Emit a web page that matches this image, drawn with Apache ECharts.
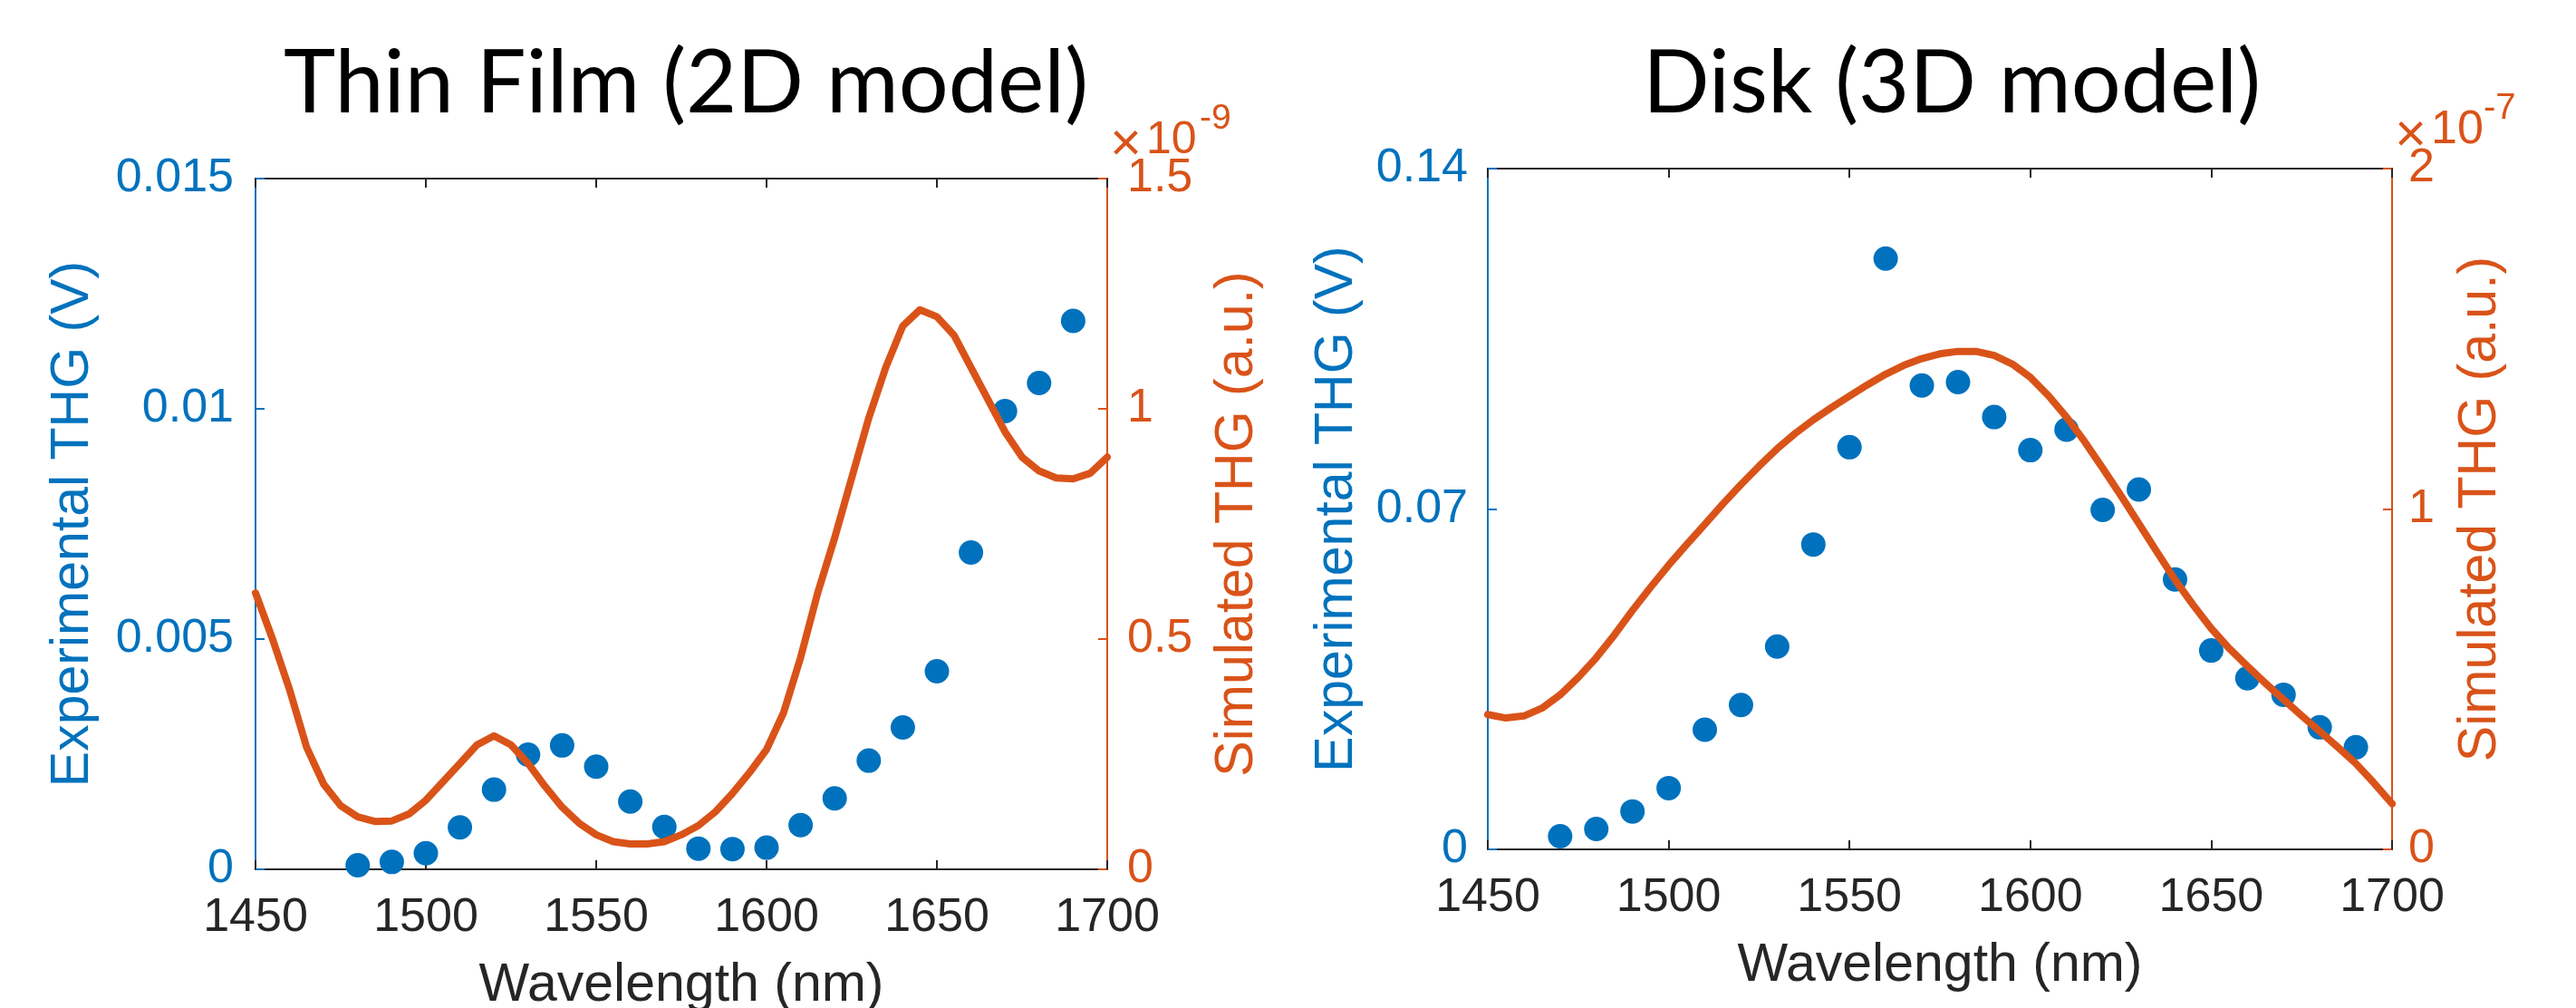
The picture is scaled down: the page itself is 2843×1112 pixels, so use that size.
<!DOCTYPE html>
<html>
<head>
<meta charset="utf-8">
<script src="https://cdn.jsdelivr.net/npm/echarts@6/dist/echarts.min.js"></script>
<style>
html,body{margin:0;padding:0;background:#fff;}
#chart{width:2843px;height:1112px;}
</style>
</head>
<body>
<div id="chart"></div>
<script>
// ---------- DATA ----------
const titles = ['Thin Film (2D model)', 'Disk (3D model)'];
const xTicks = [1450, 1500, 1550, 1600, 1650, 1700];
const xName = 'Wavelength (nm)';
const leftName = 'Experimental THG (V)';
const rightName = 'Simulated THG (a.u.)';
const filmLeftTicks = [0, 0.005, 0.01, 0.015];
const filmRightTicks = [0, 0.5, 1, 1.5];
const diskLeftTicks = [0, 0.07, 0.14];
const diskRightTicks = [0, 1, 2];
const filmExponent = '-9';
const diskExponent = '-7';

// Thin film – experimental (V)
const filmExpLambda = [1480, 1490, 1500, 1510, 1520, 1530, 1540, 1550, 1560, 1570, 1580,
  1590, 1600, 1610, 1620, 1630, 1640, 1650, 1660, 1670, 1680, 1690];
const filmExpTHG = [0.00009, 0.00016, 0.00035, 0.00091, 0.00173, 0.00249, 0.00269, 0.00223,
  0.00147, 0.00092, 0.00045, 0.00044, 0.00047, 0.00096, 0.00154, 0.00236, 0.00308, 0.00430,
  0.00688, 0.00995, 0.01056, 0.01191];

// Simulated wavelengths (nm)
const simLambda = [1450, 1455, 1460, 1465, 1470, 1475, 1480, 1485, 1490, 1495, 1500,
  1505, 1510, 1515, 1520, 1525, 1530, 1535, 1540, 1545, 1550,
  1555, 1560, 1565, 1570, 1575, 1580, 1585, 1590, 1595, 1600,
  1605, 1610, 1615, 1620, 1625, 1630, 1635, 1640, 1645, 1650,
  1655, 1660, 1665, 1670, 1675, 1680, 1685, 1690, 1695, 1700];
// Thin film – simulated (x 1e-9 a.u.)
const filmSimTHG = [0.60, 0.50, 0.39, 0.265, 0.185, 0.138, 0.114, 0.104, 0.105, 0.12, 0.15,
  0.19, 0.23, 0.27, 0.29, 0.27, 0.23, 0.18, 0.135, 0.10, 0.075,
  0.06, 0.055, 0.055, 0.06, 0.075, 0.095, 0.125, 0.165, 0.21, 0.26,
  0.34, 0.46, 0.60, 0.72, 0.85, 0.98, 1.09, 1.18, 1.215, 1.20,
  1.16, 1.09, 1.02, 0.95, 0.895, 0.865, 0.85, 0.848, 0.86, 0.895];

// Disk – experimental (V)
const diskExpLambda = [1470, 1480, 1490, 1500, 1510, 1520, 1530, 1540, 1550, 1560, 1570,
  1580, 1590, 1600, 1610, 1620, 1630, 1640, 1650, 1660, 1670, 1680, 1690];
const diskExpTHG = [0.0027, 0.0042, 0.0078, 0.0126, 0.0246, 0.0297, 0.0417, 0.0627, 0.0827,
  0.1215, 0.0954, 0.0961, 0.0889, 0.0821, 0.0863, 0.0698, 0.0740, 0.0555, 0.0409,
  0.0352, 0.0318, 0.0251, 0.0210];
// Disk – simulated (x 1e-7 a.u.)
const diskSimTHG = [0.396, 0.386, 0.392, 0.415, 0.454, 0.505, 0.563, 0.630, 0.702, 0.770, 0.835,
  0.896, 0.955, 1.015, 1.072, 1.126, 1.177, 1.222, 1.262, 1.298, 1.332,
  1.365, 1.396, 1.422, 1.442, 1.456, 1.463, 1.463, 1.451, 1.426, 1.387,
  1.333, 1.270, 1.198, 1.120, 1.040, 0.957, 0.874, 0.792, 0.718, 0.649,
  0.590, 0.538, 0.488, 0.440, 0.393, 0.347, 0.300, 0.252, 0.195, 0.134];

// ---------- STYLE ----------
const BLUE = '#0072BD';
const ORANGE = '#D95319';
const DARK = '#262626';
const SANS = '"Liberation Sans", Arial, Helvetica, sans-serif';
const TICKFS = 52;
const NAMEFS = 59;

function zip(a, b) { return a.map((v, i) => [v, b[i]]); }
function fmt(v) { return String(+Number(v).toPrecision(6)); }

const grids = [
  { left: 282, top: 197, width: 940, height: 762, outerBoundsMode: 'none', containLabel: false },
  { left: 1642, top: 186, width: 998, height: 751, outerBoundsMode: 'none', containLabel: false }
];

function xBottom(g) {
  return {
    type: 'value', gridIndex: g, position: 'bottom',
    min: xTicks[0], max: xTicks[xTicks.length - 1], interval: xTicks[1] - xTicks[0],
    axisLine: { show: true, onZero: false, lineStyle: { color: DARK, width: 2 } },
    axisTick: { show: true, inside: true, length: 10, lineStyle: { color: DARK, width: 2 } },
    axisLabel: { color: DARK, fontSize: TICKFS, fontFamily: SANS, margin: 28, formatter: fmt },
    splitLine: { show: false },
    name: xName, nameLocation: 'middle', nameGap: 99, nameMoveOverlap: false,
    nameTextStyle: { color: DARK, fontSize: NAMEFS, fontFamily: SANS, lineHeight: NAMEFS }
  };
}
function xTop(g) {
  return {
    type: 'value', gridIndex: g, position: 'top',
    min: xTicks[0], max: xTicks[xTicks.length - 1], interval: xTicks[1] - xTicks[0],
    axisLine: { show: true, onZero: false, lineStyle: { color: DARK, width: 2 } },
    axisTick: { show: true, inside: true, length: 10, lineStyle: { color: DARK, width: 2 } },
    axisLabel: { show: false },
    splitLine: { show: false }
  };
}
function yAx(g, pos, ticks, color, name, gap, margin) {
  return {
    type: 'value', gridIndex: g, position: pos,
    min: ticks[0], max: ticks[ticks.length - 1], interval: ticks[1] - ticks[0],
    axisLine: { show: true, lineStyle: { color: color, width: 2 } },
    axisTick: { show: true, inside: true, length: 10, lineStyle: { color: color, width: 2 } },
    axisLabel: { color: color, fontSize: TICKFS, fontFamily: SANS, margin: margin, formatter: fmt },
    splitLine: { show: false },
    name: name, nameLocation: 'middle', nameGap: gap, nameMoveOverlap: false,
    nameTextStyle: { color: color, fontSize: NAMEFS, fontFamily: SANS, lineHeight: NAMEFS }
  };
}

const option = {
  animation: false,
  backgroundColor: '#ffffff',
  grid: grids,
  xAxis: [xBottom(0), xTop(0), xBottom(1), xTop(1)],
  yAxis: [
    yAx(0, 'left', filmLeftTicks, BLUE, leftName, 172, 24),
    yAx(0, 'right', filmRightTicks, ORANGE, rightName, 114, 22),
    yAx(1, 'left', diskLeftTicks, BLUE, leftName, 137, 22),
    yAx(1, 'right', diskRightTicks, ORANGE, rightName, 68, 18)
  ],
  series: [
    { type: 'scatter', xAxisIndex: 0, yAxisIndex: 0, data: zip(filmExpLambda, filmExpTHG),
      symbol: 'circle', symbolSize: 27, itemStyle: { color: BLUE, opacity: 1 }, z: 2 },
    { type: 'line', xAxisIndex: 0, yAxisIndex: 1, data: zip(simLambda, filmSimTHG),
      showSymbol: false, lineStyle: { color: ORANGE, width: 8, join: 'round', cap: 'round' }, z: 3 },
    { type: 'scatter', xAxisIndex: 2, yAxisIndex: 2, data: zip(diskExpLambda, diskExpTHG),
      symbol: 'circle', symbolSize: 27, itemStyle: { color: BLUE, opacity: 1 }, z: 2 },
    { type: 'line', xAxisIndex: 2, yAxisIndex: 3, data: zip(simLambda, diskSimTHG),
      showSymbol: false, lineStyle: { color: ORANGE, width: 8, join: 'round', cap: 'round' }, z: 3 }
  ],
  graphic: [
    { type: 'text', x: 757, y: 93, style: { text: titles[0], fill: '#000', font: '97px Lato, "Open Sans", sans-serif', align: 'center', verticalAlign: 'middle' } },
    { type: 'text', x: 2154, y: 93, style: { text: titles[1], fill: '#000', font: '97px Lato, "Open Sans", sans-serif', align: 'center', verticalAlign: 'middle' } },
    { type: 'text', x: 1225, y: 160, style: { text: '\u00d7', fill: ORANGE, font: '60px ' + SANS, align: 'left', verticalAlign: 'middle' } },
    { type: 'text', x: 1265, y: 155, style: { text: '10', fill: ORANGE, font: '50px ' + SANS, align: 'left', verticalAlign: 'middle' } },
    { type: 'text', x: 1324, y: 131, style: { text: filmExponent, fill: ORANGE, font: '39px ' + SANS, align: 'left', verticalAlign: 'middle' } },
    { type: 'text', x: 2643, y: 150, style: { text: '\u00d7', fill: ORANGE, font: '60px ' + SANS, align: 'left', verticalAlign: 'middle' } },
    { type: 'text', x: 2683, y: 144, style: { text: '10', fill: ORANGE, font: '52px ' + SANS, align: 'left', verticalAlign: 'middle' } },
    { type: 'text', x: 2741, y: 120, style: { text: diskExponent, fill: ORANGE, font: '40px ' + SANS, align: 'left', verticalAlign: 'middle' } }
  ]
};

const chart = echarts.init(document.getElementById('chart'), null, { renderer: 'canvas', width: 2843, height: 1112 });
chart.setOption(option);
</script>
</body>
</html>
